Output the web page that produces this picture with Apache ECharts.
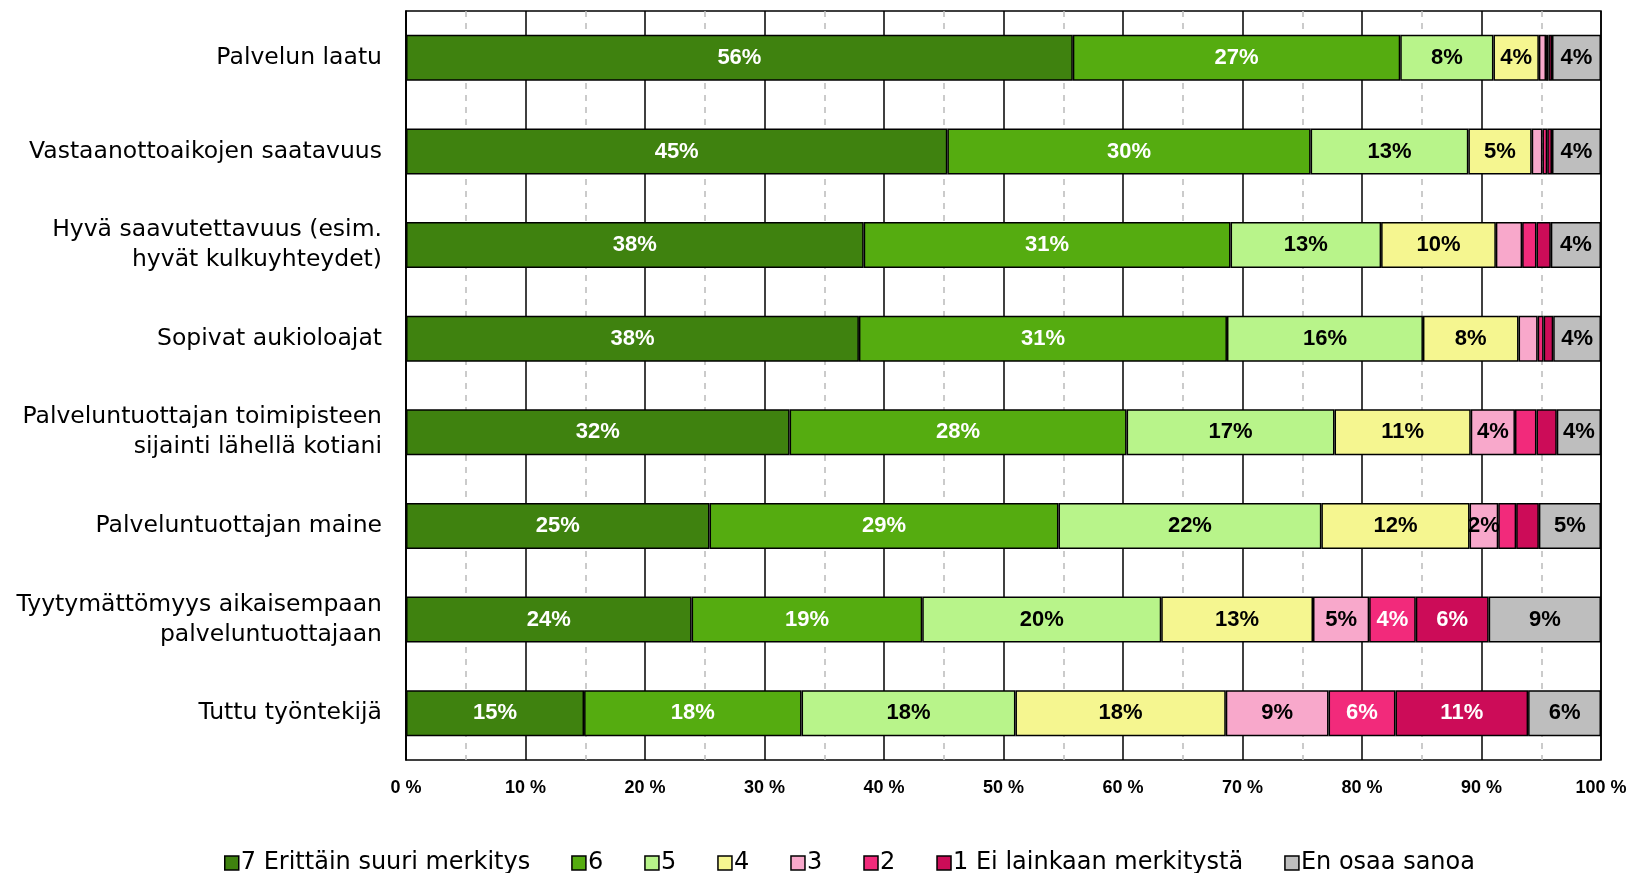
<!DOCTYPE html>
<html>
<head>
<meta charset="utf-8">
<script src="https://cdn.jsdelivr.net/npm/echarts@6/dist/echarts.min.js"></script>
<style>
  html, body { margin: 0; padding: 0; background: #fff; }
  #chart { width: 1632px; height: 873px; }
</style>
</head>
<body>
<div id="chart"></div>
<script>
// kategoriat ylhäältä alas
const categories = [
  'Palvelun laatu',
  'Vastaanottoaikojen saatavuus',
  'Hyvä saavutettavuus (esim.\nhyvät kulkuyhteydet)',
  'Sopivat aukioloajat',
  'Palveluntuottajan toimipisteen\nsijainti lähellä kotiani',
  'Palveluntuottajan maine',
  'Tyytymättömyys aikaisempaan\npalveluntuottajaan',
  'Tuttu työntekijä'
];

const seriesNames = ['7 Erittäin suuri merkitys', '6', '5', '4', '3', '2', '1 Ei lainkaan merkitystä', 'En osaa sanoa'];

// osuudet (%) luettu kuvasta
const v7 = [55.8, 45.3, 38.3, 37.9, 32.1, 25.4, 23.9, 14.9];
const v6 = [27.4, 30.4, 30.7, 30.8, 28.2, 29.2, 19.3, 18.2];
const v5 = [7.8, 13.2, 12.6, 16.4, 17.4, 22.0, 20.0, 17.9];
const v4 = [3.8, 5.3, 9.6, 8.0, 11.4, 12.4, 12.7, 17.6];
const v3 = [0.6, 0.9, 2.2, 1.6, 3.7, 2.4, 4.7, 8.6];
const v2 = [0.2, 0.4, 1.2, 0.5, 1.8, 1.5, 3.9, 5.6];
const v1 = [0.3, 0.4, 1.2, 0.8, 1.7, 1.9, 6.1, 11.1];
const vEos = [4.1, 4.1, 4.2, 4.0, 3.7, 5.2, 9.4, 6.1];

const xTicks = [0, 10, 20, 30, 40, 50, 60, 70, 80, 90, 100];

const values = [v7, v6, v5, v4, v3, v2, v1, vEos];
const colors = ['#3f820f', '#55ac10', '#b8f48a', '#f5f690', '#f8a8cb', '#f22a7b', '#cc0c58', '#bebebe'];
const labelColors = ['#fff', '#fff', '#000', '#000', '#000', '#fff', '#fff', '#000'];

const font = 'DejaVu Sans';
const numFont = 'Liberation Sans';

const chart = echarts.init(document.getElementById('chart'));

const series = seriesNames.map((name, i) => ({
  name: name,
  type: 'bar',
  stack: 'total',
  barWidth: 46,
  data: values[i],
  itemStyle: { color: colors[i], borderColor: '#000', borderWidth: 1.5 },
  label: {
    show: true,
    position: 'inside',
    color: labelColors[i],
    fontFamily: numFont,
    fontWeight: 'bold',
    fontSize: 22,
    formatter: (p) => p.value >= 2.3 ? Math.round(p.value) + '%' : ''
  },
  emphasis: { disabled: true }
}));

chart.setOption({
  animation: false,
  backgroundColor: '#fff',
  textStyle: { fontFamily: font },
  grid: {
    left: 406, right: 31, top: 11, bottom: 113,
    show: true, borderColor: '#000', borderWidth: 1.5
  },
  legend: {
    left: 219,
    top: 846,
    itemGap: 41,
    itemWidth: 14,
    itemHeight: 14,
    icon: 'rect',
    itemStyle: { borderColor: '#000', borderWidth: 1.5 },
    textStyle: { fontFamily: font, fontSize: 24, color: '#000', padding: [0, 0, 0, -3] },
    data: seriesNames
  },
  xAxis: {
    type: 'value',
    min: xTicks[0],
    max: xTicks[xTicks.length - 1],
    interval: 10,
    axisLine: { show: false },
    axisTick: { show: false },
    axisLabel: {
      margin: 19,
      color: '#000',
      fontFamily: numFont,
      fontWeight: 'bold',
      fontSize: 18,
      formatter: '{value} %'
    },
    splitLine: { show: true, lineStyle: { color: '#000', width: 1.5 } },
    minorTick: { show: false, splitNumber: 2 },
    minorSplitLine: { show: true, lineStyle: { color: '#bbbbbb', width: 1.5, type: [6, 6] } }
  },
  yAxis: {
    type: 'category',
    inverse: true,
    data: categories,
    axisLine: { show: true, lineStyle: { color: '#000', width: 1.5 } },
    axisTick: { show: false },
    axisLabel: {
      margin: 24,
      color: '#000',
      fontFamily: font,
      fontSize: 23.5,
      lineHeight: 30,
      align: 'right'
    }
  },
  series: series
});
</script>
</body>
</html>
